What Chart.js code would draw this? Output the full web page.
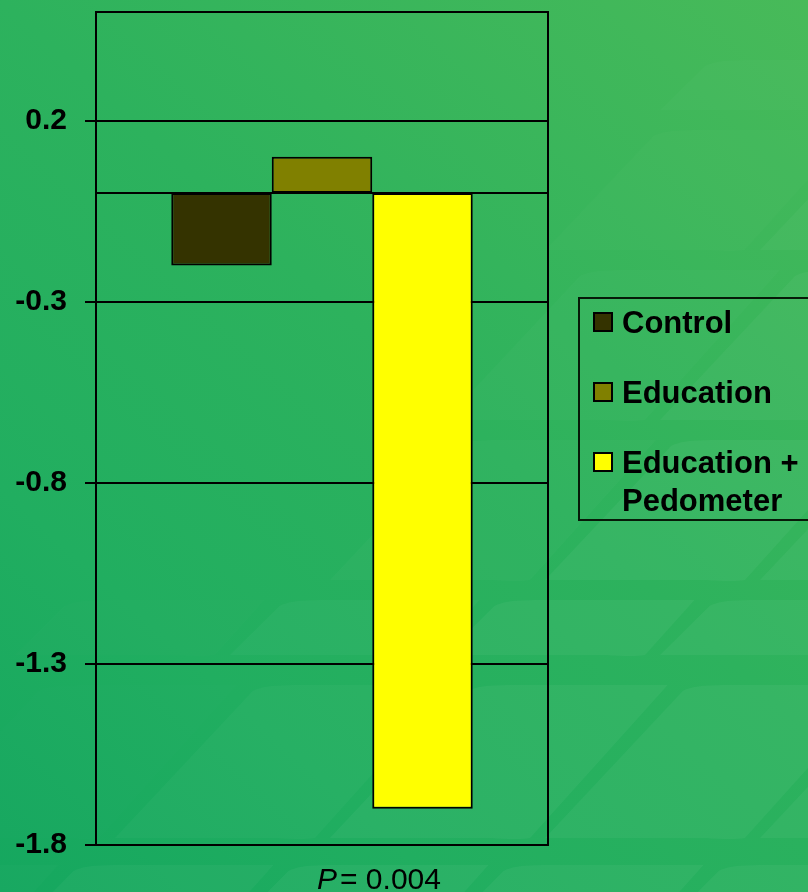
<!DOCTYPE html>
<html>
<head>
<meta charset="utf-8">
<title>Change by group</title>
<script src="https://cdn.jsdelivr.net/npm/chart.js@4.4.1/dist/chart.umd.min.js"></script>
<style>
    body { margin: 0; background: #22ae5f; }
    #wrap { width: 808px; height: 892px; position: relative; }
</style>
</head>
<body>
<div id="wrap"><canvas id="barChart"></canvas></div>
<script>
// data
var categories = [""];
var seriesNames = ["Control", "Education", "Education +\nPedometer"];
var controlValues = [-0.2];
var educationValues = [0.1];
var pedometerValues = [-1.7];
var yTicks = [-1.8, -1.3, -0.8, -0.3, 0.2];
var yMin = -1.8;
var yMax = 0.5;
var pLabel = "P";
var pValueText = "= 0.004";

var seriesColors = ["#343300", "#808000", "#ffff00"];
var fontName = "'Liberation Sans', Arial, sans-serif";

// green slide background with the faint slanted stripes
var slideBackground = {
    id: 'slideBackground',
    beforeDraw: function (chart) {
        var c = chart.ctx;
        var w = chart.width, h = chart.height;
        c.save();
        var g = c.createLinearGradient(w, 0, 0, h);
        g.addColorStop(0, '#48ba59');
        g.addColorStop(0.45, '#2db25d');
        g.addColorStop(0.75, '#21ae60');
        g.addColorStop(1, '#15a75f');
        c.fillStyle = g;
        c.fillRect(0, 0, w, h);

        // rows of rounded parallelograms
        var rows = [[60, 110], [130, 250], [270, 420], [440, 580], [600, 655], [685, 838], [865, 930]];
        for (var r = 0; r < rows.length; r++) {
            var y0 = rows[r][0], y1 = rows[r][1];
            var hh = y1 - y0;
            for (var x = -200; x < w + 200; x += 215) {
                var cx = x + (r % 2) * 100;
                var a = (cx + y0 - 500) / 500;
                if (a <= 0) continue;
                if (a > 1) a = 1;
                c.fillStyle = 'rgba(255,255,255,' + (0.045 * a) + ')';
                c.beginPath();
                c.moveTo(cx, y1);
                c.lineTo(cx + hh * 0.9, y0 + 6);
                c.quadraticCurveTo(cx + hh * 0.9 + 10, y0, cx + hh * 0.9 + 40, y0);
                c.lineTo(cx + hh * 0.9 + 200, y0);
                c.lineTo(cx + 200, y1);
                c.quadraticCurveTo(cx + 190, y1 + 2, cx + 160, y1);
                c.closePath();
                c.fill();
            }
        }
        c.restore();
    }
};

// box round the plot and the zero line
var plotFrame = {
    id: 'plotFrame',
    afterDraw: function (chart) {
        var c = chart.ctx;
        var a = chart.chartArea;
        var y0 = chart.scales.y.getPixelForValue(0);
        c.save();
        c.strokeStyle = '#000';
        c.lineWidth = 2;
        c.strokeRect(a.left, a.top, a.right - a.left, a.bottom - a.top);
        c.beginPath();
        c.moveTo(a.left, y0);
        c.lineTo(a.right, y0);
        c.stroke();

        // P value under the plot
        var px = (a.left + a.right) / 2 - 5;
        var py = a.bottom + 44;
        c.fillStyle = '#000';
        c.textBaseline = 'alphabetic';
        c.font = 'italic 30px ' + fontName;
        c.fillText(pLabel, px, py);
        var pw = c.measureText(pLabel).width;
        c.font = '30px ' + fontName;
        c.fillText(pValueText, px + pw + 3, py);
        c.restore();
    }
};

// legend box on the right, built from the datasets
var sideLegend = {
    id: 'sideLegend',
    afterDraw: function (chart) {
        var c = chart.ctx;
        var a = chart.chartArea;
        var bx = a.right + 31, by = 298;
        c.save();
        c.strokeStyle = '#061a08';
        c.lineWidth = 2;
        c.strokeRect(bx, by, 260, 222);
        c.font = 'bold 31px ' + fontName;
        c.textBaseline = 'alphabetic';
        var y = 322;
        chart.data.datasets.forEach(function (ds) {
            c.fillStyle = ds.backgroundColor;
            c.fillRect(bx + 15, y - 9, 18, 18);
            c.strokeStyle = '#000';
            c.lineWidth = 2;
            c.strokeRect(bx + 15, y - 9, 18, 18);
            c.fillStyle = '#000';
            var lines = ds.label.split('\n');
            for (var i = 0; i < lines.length; i++) {
                c.fillText(lines[i], bx + 43, y + 11 + i * 38);
            }
            y += 70 + (lines.length - 1) * 38;
        });
        c.restore();
    }
};

var ctx = document.getElementById('barChart').getContext('2d');
var myBarChart = new Chart(ctx, {
    type: 'bar',
    data: {
        labels: categories,
        datasets: [{
                label: seriesNames[0],
                data: controlValues,
                backgroundColor: seriesColors[0],
                borderColor: '#000',
                borderWidth: 2,
                borderSkipped: false
            },
            {
                label: seriesNames[1],
                data: educationValues,
                backgroundColor: seriesColors[1],
                borderColor: '#000',
                borderWidth: 2,
                borderSkipped: false
            },
            {
                label: seriesNames[2],
                data: pedometerValues,
                backgroundColor: seriesColors[2],
                borderColor: '#000',
                borderWidth: 2,
                borderSkipped: false
            }
        ]
    },
    options: {
        responsive: true,
        maintainAspectRatio: false,
        animation: false,
        layout: {
            padding: { left: 0, right: 260, top: 12, bottom: 47 }
        },
        datasets: {
            bar: { categoryPercentage: 0.667, barPercentage: 1.0 }
        },
        plugins: {
            legend: { display: false },
            tooltip: { enabled: false }
        },
        scales: {
            x: {
                display: false
            },
            y: {
                min: yMin,
                max: yMax,
                afterBuildTicks: function (scale) {
                    scale.ticks = yTicks.map(function (v) { return { value: v }; });
                },
                afterFit: function (scale) {
                    scale.width = 96;
                    scale.paddingTop = 0;
                    scale.paddingBottom = 0;
                },
                grid: {
                    color: '#000',
                    lineWidth: 2,
                    tickLength: 11
                },
                border: { display: true, color: '#000', width: 2 },
                ticks: {
                    padding: 18,
                    color: '#000',
                    font: { family: fontName, size: 30, weight: 'bold' },
                    callback: function (v) { return v.toFixed(1); }
                }
            }
        }
    },
    plugins: [slideBackground, plotFrame, sideLegend]
});
</script>
</body>
</html>
